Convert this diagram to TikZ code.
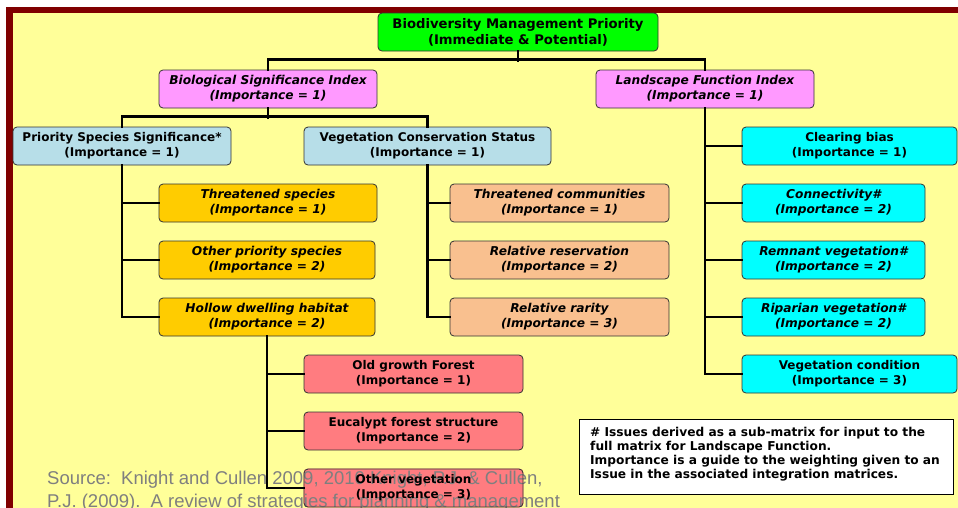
\documentclass[tikz,border=0pt]{standalone}
\usepackage{fontspec}
\setmainfont{DejaVu Sans}
\newfontfamily\srcfont{Liberation Sans}
\definecolor{bgyellow}{HTML}{FFFF99}
\definecolor{darkred}{HTML}{800000}
\definecolor{cgreen}{HTML}{00FF00}
\definecolor{cpink}{HTML}{FF99FF}
\definecolor{clblue}{HTML}{B7DEE8}
\definecolor{cgold}{HTML}{FFCC00}
\definecolor{cpeach}{HTML}{F9C08F}
\definecolor{csalmon}{HTML}{FF7C80}
\definecolor{ccyan}{HTML}{00FFFF}
\definecolor{cgrey}{HTML}{7F7F7F}
\pgfdeclarelayer{bg}
\pgfsetlayers{bg,main}
\tikzset{
  box/.style={draw=black!80, line width=0.8pt, rounded corners=4pt, minimum height=38pt,
    inner sep=0pt, align=center, font=\fontsize{12}{15}\selectfont\bfseries},
  ibox/.style={box, font=\fontsize{12.2}{15}\selectfont\bfseries\itshape},
  conn/.style={line width=2.6pt, line cap=rect},
}
\begin{document}
\begin{tikzpicture}[x=1pt,y=-1pt]
\useasboundingbox (0,0) rectangle (958,507);
\begin{pgfonlayer}{bg}
\fill[white] (0,0) rectangle (958,507);
\fill[darkred] (6,7) rectangle (970,520);
\fill[bgyellow] (13,13) rectangle (970,520);
\end{pgfonlayer}

% nodes
\node[box, fill=cgreen, minimum width=280pt, minimum height=38pt,
  font=\fontsize{13.2}{16}\selectfont\bfseries] (root) at (518,32)
  {Biodiversity Management Priority\\(Immediate \& Potential)};
\node[ibox, fill=cpink, minimum width=218pt] (bsi) at (268,89)
  {Biological Significance Index\\(Importance = 1)};
\node[ibox, fill=cpink, minimum width=218pt] (lfi) at (705,89)
  {Landscape Function Index\\(Importance = 1)};
\node[box, fill=clblue, minimum width=218pt] (pss) at (122,146)
  {Priority Species Significance*\\(Importance = 1)};
\node[box, fill=clblue, minimum width=247pt] (vcs) at (427.5,146)
  {Vegetation Conservation Status\\(Importance = 1)};

\node[ibox, fill=cgold, minimum width=218pt] (ts) at (268,203)
  {Threatened species\\(Importance = 1)};
\node[ibox, fill=cgold, minimum width=216pt] (ops) at (267,260)
  {Other priority species\\(Importance = 2)};
\node[ibox, fill=cgold, minimum width=216pt] (hdh) at (267,317)
  {Hollow dwelling habitat\\(Importance = 2)};

\node[ibox, fill=cpeach, minimum width=219pt] (tc) at (559.5,203)
  {Threatened communities\\(Importance = 1)};
\node[ibox, fill=cpeach, minimum width=219pt] (rres) at (559.5,260)
  {Relative reservation\\(Importance = 2)};
\node[ibox, fill=cpeach, minimum width=219pt] (rrar) at (559.5,317)
  {Relative rarity\\(Importance = 3)};

\node[box, fill=ccyan, minimum width=215pt] (cb) at (849.5,146)
  {Clearing bias\\(Importance = 1)};
\node[ibox, fill=ccyan, minimum width=183pt] (con) at (833.5,203)
  {Connectivity\#\\(Importance = 2)};
\node[ibox, fill=ccyan, minimum width=183pt] (rem) at (833.5,260)
  {Remnant vegetation\#\\(Importance = 2)};
\node[ibox, fill=ccyan, minimum width=183pt] (rip) at (833.5,317)
  {Riparian vegetation\#\\(Importance = 2)};
\node[box, fill=ccyan, minimum width=215pt] (vc) at (849.5,374)
  {Vegetation condition\\(Importance = 3)};

\node[box, fill=csalmon, minimum width=219pt] (ogf) at (413.5,374)
  {Old growth Forest\\(Importance = 1)};
\node[box, fill=csalmon, minimum width=219pt] (euc) at (413.5,431)
  {Eucalypt forest structure\\(Importance = 2)};

\node[draw=black, line width=0.8pt, fill=white, minimum width=374pt, minimum height=75pt,
  inner sep=0pt] (note) at (766,456.5) {};
\node[anchor=north west, inner sep=0pt, align=left,
  font=\fontsize{12.2}{14}\selectfont\bfseries] (notetext) at (590,427)
  {\# Issues derived as a sub-matrix for input to the\\
   full matrix for Landscape Function.\\
   Importance is a guide to the weighting given to an\\
   Issue in the associated integration matrices.};

% connectors
\draw[conn] (root.south) -- ++(0,9);
\draw[conn] (bsi.north) -- ++(0,-10) -| (lfi.north);
\draw[conn] (bsi.south) -- ++(0,9);
\draw[conn] (pss.north) -- ++(0,-10) -| (vcs.north);
\draw[conn] (pss.south) |- (hdh.west);
\draw[conn] (pss.south |- ts.west) -- (ts.west);
\draw[conn] (pss.south |- ops.west) -- (ops.west);
\draw[conn] (vcs.south) |- (rrar.west);
\draw[conn] (vcs.south |- tc.west) -- (tc.west);
\draw[conn] (vcs.south |- rres.west) -- (rres.west);
\draw[conn] (lfi.south) |- (vc.west);
\draw[conn] (lfi.south |- cb.west) -- (cb.west);
\draw[conn] (lfi.south |- con.west) -- (con.west);
\draw[conn] (lfi.south |- rem.west) -- (rem.west);
\draw[conn] (lfi.south |- rip.west) -- (rip.west);
\draw[conn] (hdh.south |- ogf.west) -- (ogf.west);
\draw[conn] (hdh.south |- euc.west) -- (euc.west);

% source text (drawn over the last box's fill, under its label)
\node[anchor=base west, inner sep=0pt, align=left, text=cgrey,
  font=\srcfont\fontsize{18.5}{23}\selectfont] (src) at (47,507)
  {Source:~~Knight and Cullen 2009, 2010 Knight, P.J. \& Cullen,\\
   P.J. (2009).~~A review of strategies for planning \& management};

\node[box, minimum width=219pt] (ov) at (413.5,488)
  {Other vegetation\\(Importance = 3)};
\begin{pgfonlayer}{bg}
\fill[csalmon, rounded corners=4pt] (ov.north west) rectangle (ov.south east);
\end{pgfonlayer}
\draw[conn] (hdh.south) |- (ov.west);
\end{tikzpicture}
\end{document}
